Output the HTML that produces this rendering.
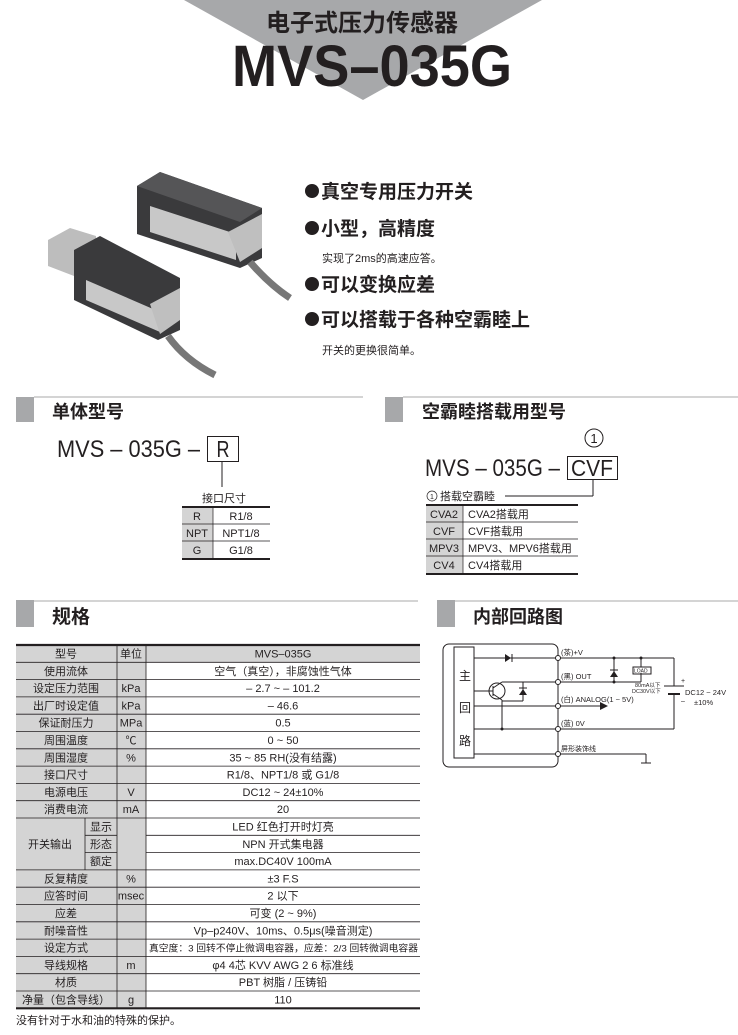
<!DOCTYPE html>
<html><head><meta charset="utf-8"><style>
html,body{margin:0;padding:0;background:#fff;}
svg{display:block;}
text{font-family:"Liberation Sans","Noto Sans CJK SC",sans-serif;fill:#231f20;}
.b{font-weight:700;}
.t{font-size:11px;}
.m{text-anchor:middle;}
</style></head><body>
<svg width="738" height="1035" viewBox="0 0 738 1035" xmlns="http://www.w3.org/2000/svg">
<!-- header -->
<polygon points="184,0 542,0 363,100" fill="#a7a8aa"/>
<text x="362" y="31" class="b m" style="font-size:24px">电子式压力传感器</text>
<text x="232" y="86" class="b" style="font-size:58px" textLength="280" lengthAdjust="spacingAndGlyphs">MVS–035G</text>

<!-- products -->
<g>
<polygon points="137,186 160,172 262,208 262,258 240,268 137,234" fill="#3a3a3c"/>
<polygon points="137,186 160,172 262,208 240,222" fill="#555557"/>
<polygon points="150,206 236,234 236,260 150,232" fill="#c8c8c8"/>
<polygon points="228,232 262,214 262,248 240,262" fill="#bfbfbf"/>
<path d="M250,262 Q270,285 290,298" stroke="#777" stroke-width="7" fill="none"/>
<polygon points="48,240 70,228 96,236 96,262 74,276 48,266" fill="#bdbdbd"/>
<polygon points="74,250 100,236 180,278 180,330 158,340 74,300" fill="#3a3a3c"/>
<polygon points="86,280 160,312 160,332 86,300" fill="#c8c8c8"/>
<polygon points="150,304 180,288 180,320 160,334" fill="#bfbfbf"/>
<path d="M168,336 Q185,360 215,375" stroke="#777" stroke-width="7" fill="none"/>
</g>

<!-- bullets -->
<g fill="#231f20"><circle cx="312" cy="191" r="7"/><circle cx="312" cy="228" r="7"/><circle cx="312" cy="284" r="7"/><circle cx="312" cy="319" r="7"/></g>
<text x="321" y="198" class="b" style="font-size:19px">真空专用压力开关</text>
<text x="321" y="235" class="b" style="font-size:19px">小型，高精度</text>
<text x="322" y="262" style="font-size:11px">实现了2ms的高速应答。</text>
<text x="321" y="291" class="b" style="font-size:19px">可以变换应差</text>
<text x="321" y="326" class="b" style="font-size:19px">可以搭载于各种空霸睦上</text>
<text x="322" y="354" style="font-size:11px">开关的更换很简单。</text>

<!-- section headers -->
<rect x="16" y="397" width="18" height="25" fill="#a7a8aa"/>
<line x1="34" y1="397" x2="363" y2="397" stroke="#bbb" stroke-width="1.2"/>
<text x="52" y="418" class="b" style="font-size:18px">单体型号</text>
<rect x="385" y="397" width="18" height="25" fill="#a7a8aa"/>
<line x1="403" y1="397" x2="738" y2="397" stroke="#bbb" stroke-width="1.2"/>
<text x="422" y="418" class="b" style="font-size:18px">空霸睦搭载用型号</text>

<!-- left model -->
<text x="57" y="457" style="font-size:24px" textLength="143" lengthAdjust="spacingAndGlyphs">MVS  –  035G  –</text>
<rect x="207.5" y="436.5" width="31" height="25" fill="none" stroke="#231f20"/>
<text x="223" y="457" class="m" style="font-size:23px" textLength="13" lengthAdjust="spacingAndGlyphs">R</text>
<line x1="222" y1="462" x2="222" y2="487" stroke="#231f20"/>
<text x="224" y="502" class="m t">接口尺寸</text>
<rect x="182" y="507" width="31" height="52" fill="#d4d4d4"/>
<line x1="182" y1="507" x2="270" y2="507" stroke="#231f20" stroke-width="2"/>
<line x1="182" y1="524" x2="270" y2="524" stroke="#231f20" stroke-width=".7"/>
<line x1="182" y1="541" x2="270" y2="541" stroke="#231f20" stroke-width=".7"/>
<line x1="182" y1="559" x2="270" y2="559" stroke="#231f20" stroke-width="2"/>
<line x1="213" y1="507" x2="213" y2="559" stroke="#231f20" stroke-width=".7"/>
<text x="197" y="520" class="m t">R</text><text x="241" y="520" class="m t">R1/8</text>
<text x="197" y="537" class="m t">NPT</text><text x="241" y="537" class="m t">NPT1/8</text>
<text x="197" y="554" class="m t">G</text><text x="241" y="554" class="m t">G1/8</text>

<!-- right model -->
<circle cx="594" cy="438" r="9" fill="none" stroke="#231f20"/>
<text x="594" y="443" class="m" style="font-size:13px">1</text>
<text x="425" y="476" style="font-size:24px" textLength="135" lengthAdjust="spacingAndGlyphs">MVS  –  035G  –</text>
<rect x="567.5" y="456.5" width="50" height="23" fill="none" stroke="#231f20"/>
<text x="592" y="476" class="m" style="font-size:23px" textLength="42" lengthAdjust="spacingAndGlyphs">CVF</text>
<line x1="593" y1="480" x2="593" y2="496" stroke="#231f20"/>
<line x1="505" y1="496" x2="593" y2="496" stroke="#231f20"/>
<circle cx="432" cy="496" r="5" fill="none" stroke="#231f20" stroke-width=".7"/>
<text x="432" y="499" class="m" style="font-size:7px">1</text>
<text x="440" y="500" class="t">搭载空霸睦</text>
<rect x="426" y="505" width="37" height="69" fill="#d4d4d4"/>
<line x1="426" y1="505" x2="578" y2="505" stroke="#231f20" stroke-width="2"/>
<line x1="426" y1="522" x2="578" y2="522" stroke="#231f20" stroke-width=".7"/>
<line x1="426" y1="539" x2="578" y2="539" stroke="#231f20" stroke-width=".7"/>
<line x1="426" y1="556" x2="578" y2="556" stroke="#231f20" stroke-width=".7"/>
<line x1="426" y1="574" x2="578" y2="574" stroke="#231f20" stroke-width="2"/>
<line x1="463" y1="505" x2="463" y2="574" stroke="#231f20" stroke-width=".7"/>
<text x="444" y="518" class="m t">CVA2</text><text x="468" y="518" class="t">CVA2搭载用</text>
<text x="444" y="535" class="m t">CVF</text><text x="468" y="535" class="t">CVF搭载用</text>
<text x="444" y="552" class="m t">MPV3</text><text x="468" y="552" class="t">MPV3、MPV6搭载用</text>
<text x="444" y="569" class="m t">CV4</text><text x="468" y="569" class="t">CV4搭载用</text>

<!-- spec header -->
<rect x="16" y="600" width="18" height="27" fill="#a7a8aa"/>
<line x1="34" y1="601" x2="418" y2="601" stroke="#bbb" stroke-width="1.2"/>
<text x="52" y="623" class="b" style="font-size:19px">规格</text>

<!-- circuit header -->
<rect x="437" y="600" width="18" height="27" fill="#a7a8aa"/>
<line x1="455" y1="601" x2="738" y2="601" stroke="#bbb" stroke-width="1.2"/>
<text x="473" y="623" class="b" style="font-size:18px">内部回路图</text>

<!-- spec table -->
<rect x="16" y="645" width="130" height="363" fill="#d4d4d4"/>
<rect x="146" y="645" width="274" height="17.3" fill="#d4d4d4"/>
<g stroke="#231f20" stroke-width=".8">
<line x1="16" y1="662.3" x2="420" y2="662.3"/>
<line x1="16" y1="679.6" x2="420" y2="679.6"/>
<line x1="16" y1="696.9" x2="420" y2="696.9"/>
<line x1="16" y1="714.2" x2="420" y2="714.2"/>
<line x1="16" y1="731.5" x2="420" y2="731.5"/>
<line x1="16" y1="748.8" x2="420" y2="748.8"/>
<line x1="16" y1="766.1" x2="420" y2="766.1"/>
<line x1="16" y1="783.4" x2="420" y2="783.4"/>
<line x1="16" y1="800.7" x2="420" y2="800.7"/>
<line x1="16" y1="818" x2="420" y2="818"/>
<line x1="85" y1="835.3" x2="117" y2="835.3"/><line x1="146" y1="835.3" x2="420" y2="835.3"/>
<line x1="85" y1="852.6" x2="117" y2="852.6"/><line x1="146" y1="852.6" x2="420" y2="852.6"/>
<line x1="16" y1="869.9" x2="420" y2="869.9"/>
<line x1="16" y1="887.2" x2="420" y2="887.2"/>
<line x1="16" y1="904.5" x2="420" y2="904.5"/>
<line x1="16" y1="921.8" x2="420" y2="921.8"/>
<line x1="16" y1="939.1" x2="420" y2="939.1"/>
<line x1="16" y1="956.4" x2="420" y2="956.4"/>
<line x1="16" y1="973.7" x2="420" y2="973.7"/>
<line x1="16" y1="991" x2="420" y2="991"/>
<line x1="117" y1="645" x2="117" y2="1008"/>
<line x1="146" y1="645" x2="146" y2="1008"/>
<line x1="85" y1="818" x2="85" y2="869.9"/>
</g>
<line x1="16" y1="645" x2="420" y2="645" stroke="#231f20" stroke-width="2.2"/>
<line x1="16" y1="1008.3" x2="420" y2="1008.3" stroke="#231f20" stroke-width="2.2"/>
<g>
<text x="66" y="657.5" class="m t">型号</text><text x="131" y="657.5" class="m t">单位</text><text x="283" y="657.5" class="m t">MVS–035G</text>
<text x="66" y="674.8" class="m t">使用流体</text><text x="283" y="674.8" class="m t">空气（真空），非腐蚀性气体</text>
<text x="66" y="692.1" class="m t">设定压力范围</text><text x="131" y="692.1" class="m t">kPa</text><text x="283" y="692.1" class="m t">– 2.7 ~ – 101.2</text>
<text x="66" y="709.4" class="m t">出厂时设定值</text><text x="131" y="709.4" class="m t">kPa</text><text x="283" y="709.4" class="m t">– 46.6</text>
<text x="66" y="726.7" class="m t">保证耐压力</text><text x="131" y="726.7" class="m t">MPa</text><text x="283" y="726.7" class="m t">0.5</text>
<text x="66" y="744" class="m t">周围温度</text><text x="131" y="744" class="m t">℃</text><text x="283" y="744" class="m t">0 ~ 50</text>
<text x="66" y="761.3" class="m t">周围湿度</text><text x="131" y="761.3" class="m t">%</text><text x="283" y="761.3" class="m t">35 ~ 85   RH(没有结露)</text>
<text x="66" y="778.6" class="m t">接口尺寸</text><text x="283" y="778.6" class="m t">R1/8、NPT1/8 或 G1/8</text>
<text x="66" y="795.9" class="m t">电源电压</text><text x="131" y="795.9" class="m t">V</text><text x="283" y="795.9" class="m t">DC12 ~ 24±10%</text>
<text x="66" y="813.2" class="m t">消费电流</text><text x="131" y="813.2" class="m t">mA</text><text x="283" y="813.2" class="m t">20</text>
<text x="50" y="847.8" class="m t">开关输出</text>
<text x="101" y="830.5" class="m t">显示</text><text x="283" y="830.5" class="m t">LED 红色打开时灯亮</text>
<text x="101" y="847.8" class="m t">形态</text><text x="283" y="847.8" class="m t">NPN 开式集电器</text>
<text x="101" y="865.1" class="m t">额定</text><text x="283" y="865.1" class="m t">max.DC40V 100mA</text>
<text x="66" y="882.4" class="m t">反复精度</text><text x="131" y="882.4" class="m t">%</text><text x="283" y="882.4" class="m t">±3   F.S</text>
<text x="66" y="899.7" class="m t">应答时间</text><text x="131" y="899.7" class="m t">msec</text><text x="283" y="899.7" class="m t">2 以下</text>
<text x="66" y="917" class="m t">应差</text><text x="283" y="917" class="m t">可变  (2 ~ 9%)</text>
<text x="66" y="934.3" class="m t">耐噪音性</text><text x="283" y="934.3" class="m t">Vp–p240V、10ms、0.5μs(噪音测定)</text>
<text x="66" y="951.6" class="m t">设定方式</text><text x="149" y="951.6" style="font-size:9.5px" textLength="269" lengthAdjust="spacingAndGlyphs">真空度：3 回转不停止微调电容器，应差：2/3 回转微调电容器</text>
<text x="66" y="968.9" class="m t">导线规格</text><text x="131" y="968.9" class="m t">m</text><text x="283" y="968.9" class="m t">φ4   4芯   KVV   AWG 2 6    标准线</text>
<text x="66" y="986.2" class="m t">材质</text><text x="283" y="986.2" class="m t">PBT 树脂 / 压铸铅</text>
<text x="66" y="1003.5" class="m t">净量（包含导线）</text><text x="131" y="1003.5" class="m t">g</text><text x="283" y="1003.5" class="m t">110</text>
</g>
<text x="16" y="1024" class="t">没有针对于水和油的特殊的保护。</text>

<!-- circuit -->
<g stroke="#231f20" stroke-width="1" fill="none">
<rect x="443" y="644" width="115" height="123" rx="6"/>
<rect x="454" y="647" width="20" height="111"/>
<line x1="474" y1="658" x2="674" y2="658"/>
<line x1="504" y1="682" x2="641" y2="682"/>
<line x1="474" y1="706" x2="600" y2="706"/>
<line x1="474" y1="729" x2="674" y2="729"/>
<line x1="474" y1="754" x2="646" y2="754"/>
<line x1="646" y1="754" x2="646" y2="763"/>
<line x1="641" y1="763" x2="651" y2="763"/>
<line x1="674" y1="658" x2="674" y2="686"/>
<line x1="674" y1="694" x2="674" y2="729"/>
<line x1="664" y1="686" x2="684" y2="686"/>
<line x1="668" y1="694" x2="680" y2="694" stroke-width="2"/>
<line x1="614" y1="658" x2="614" y2="682"/>
<line x1="641" y1="658" x2="641" y2="667"/>
<line x1="641" y1="673" x2="641" y2="682"/>
<rect x="633" y="667" width="18" height="7"/>
<circle cx="497" cy="691" r="8"/>
<line x1="474" y1="691" x2="493" y2="691"/>
<line x1="493" y1="686" x2="493" y2="696"/>
<line x1="493" y1="688" x2="502" y2="682"/>
<line x1="502" y1="682" x2="504" y2="682"/>
<line x1="493" y1="694" x2="502" y2="700"/>
<line x1="502" y1="700" x2="502" y2="729"/>
<line x1="523" y1="682" x2="523" y2="701"/>
<line x1="502" y1="701" x2="523" y2="701"/>
</g>
<polygon points="505,654 505,662 511,658" fill="#231f20"/><line x1="512" y1="654" x2="512" y2="662" stroke="#231f20"/>
<polygon points="610,677 618,677 614,671" fill="#231f20"/><line x1="610" y1="670" x2="618" y2="670" stroke="#231f20"/>
<polygon points="519,695 527,695 523,689" fill="#231f20"/><line x1="519" y1="688" x2="527" y2="688" stroke="#231f20"/>
<polygon points="600,702 600,710 608,706" fill="#231f20"/>
<g fill="#fff" stroke="#231f20"><circle cx="558" cy="658" r="2.5"/><circle cx="558" cy="682" r="2.5"/><circle cx="558" cy="706" r="2.5"/><circle cx="558" cy="729" r="2.5"/><circle cx="558" cy="754" r="2.5"/></g>
<g fill="#231f20"><circle cx="614" cy="658" r="1.5"/><circle cx="614" cy="682" r="1.5"/><circle cx="641" cy="658" r="1.5"/><circle cx="502" cy="729" r="1.5"/></g>
<text x="459" y="680" style="font-size:12px">主</text>
<text x="459" y="712" style="font-size:12px">回</text>
<text x="459" y="745" style="font-size:12px">路</text>
<text x="561" y="655" style="font-size:7.5px">(茶)+V</text>
<text x="561" y="679" style="font-size:7.5px">(黑) OUT</text>
<text x="561" y="702" style="font-size:7.5px">(白) ANALOG(1 ~ 5V)</text>
<text x="561" y="726" style="font-size:7.5px">(蓝) 0V</text>
<text x="561" y="751" style="font-size:7px">屏形装饰线</text>
<text x="634" y="672.5" style="font-size:5px">LOAD</text>
<text x="635" y="687" style="font-size:5.5px">80mA以下</text>
<text x="632" y="693" style="font-size:5.5px">DC30V以下</text>
<text x="681" y="683" style="font-size:7px">+</text>
<text x="685" y="695" style="font-size:7.5px">DC12 ~ 24V</text>
<text x="681" y="703" style="font-size:7px">–</text>
<text x="694" y="705" style="font-size:7.5px">±10%</text>
</svg>
</body></html>
